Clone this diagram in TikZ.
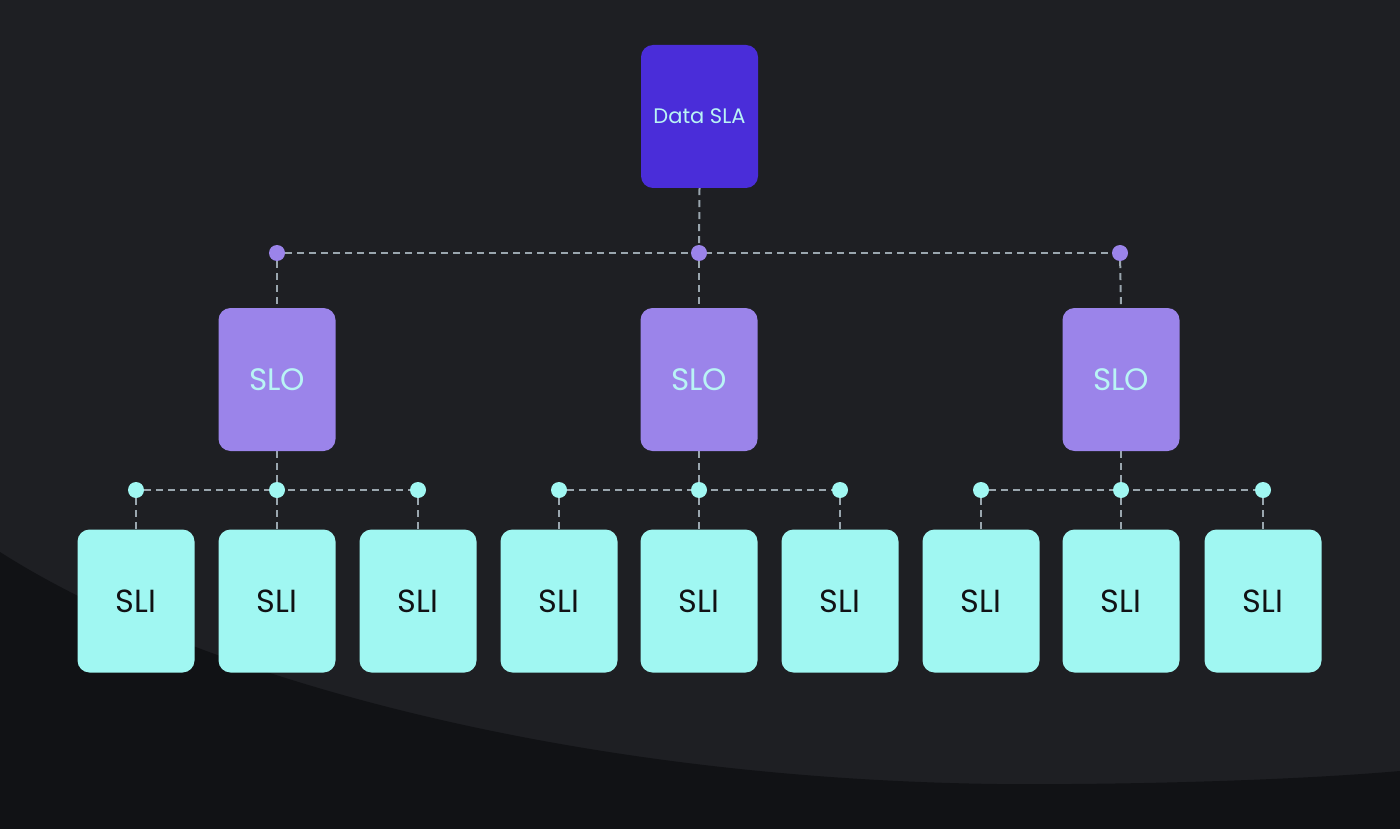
\documentclass[tikz,border=0pt]{standalone}
\usepackage{fontspec}
\setmainfont{Poppins}
\usetikzlibrary{backgrounds}
\definecolor{bgA}{HTML}{1E1F23}
\definecolor{bgB}{HTML}{111215}
\definecolor{slaC}{HTML}{4A2DD9}
\definecolor{sloC}{HTML}{9B84EA}
\definecolor{sliC}{HTML}{A0F7F2}
\definecolor{lightT}{HTML}{B9F4F5}
\definecolor{lineC}{HTML}{9AA6AE}
\tikzset{
  box/.style={rectangle, rounded corners=12pt, inner sep=0pt, minimum width=117pt, minimum height=143pt},
  slabox/.style={box, fill=slaC, text=lightT, font=\fontsize{21}{24}\selectfont},
  slobox/.style={box, fill=sloC, text=lightT, font=\fontsize{31}{36}\selectfont},
  slibox/.style={box, fill=sliC, text=bgB, font=\fontsize{32}{36}\selectfont},
  pdot/.style={circle, fill=sloC, inner sep=0pt, minimum size=16pt},
  cdot/.style={circle, fill=sliC, inner sep=0pt, minimum size=16pt},
  conn/.style={draw=lineC, line width=2pt, dash pattern=on 7pt off 5pt},
}
\begin{document}
\begin{tikzpicture}[x=1pt,y=-1pt]
\useasboundingbox (0,0) rectangle (1400,829);
% nodes
\node[slabox] (sla) at (699.5,116.5) {Data SLA};
\node[pdot] (p1) at (277,253) {};
\node[pdot] (p2) at (699,253) {};
\node[pdot] (p3) at (1120,253) {};
\node[slobox] (o1) at (277,379.5) {SLO};
\node[slobox] (o2) at (699,379.5) {SLO};
\node[slobox] (o3) at (1121,379.5) {SLO};
\foreach \i/\x in {1/136,2/277,3/418,4/559,5/699,6/840,7/981,8/1121,9/1263}{
  \node[cdot] (c\i) at (\x,490) {};
  \node[slibox] (s\i) at (\x,601) {SLI};
}
\begin{scope}[on background layer]
  \fill[bgA] (0,0) rectangle (1400,829);
  \fill[bgB] (0,552) .. controls (200,680) and (600,790) .. (1071,784)
    .. controls (1200,783) and (1320,778) .. (1400,771) -- (1400,829) -- (0,829) -- cycle;
  \draw[conn] (sla.south) -- (p2);
  \draw[conn] (p1) -- (p3);
  \draw[conn] (p1) -- (o1.north);
  \draw[conn] (p2) -- (o2.north);
  \draw[conn] (p3) -- (o3.north);
  \draw[conn] (o1.south) -- (c2);
  \draw[conn] (o2.south) -- (c5);
  \draw[conn] (o3.south) -- (c8);
  \draw[conn] (c1) -- (c3);
  \draw[conn] (c4) -- (c6);
  \draw[conn] (c7) -- (c9);
  \foreach \i in {1,...,9}{ \draw[conn] (c\i) -- (s\i.north); }
\end{scope}
\end{tikzpicture}
\end{document}
